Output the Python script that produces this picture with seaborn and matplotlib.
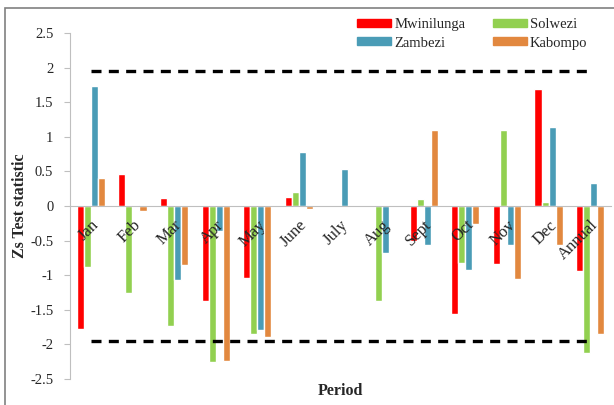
import matplotlib
matplotlib.use("Agg")
import matplotlib.pyplot as plt
import matplotlib.patches as mpatches
import seaborn as sns
import pandas as pd

periods = ["Jan", "Feb", "Mar", "Apr", "May", "June", "July", "Aug",
           "Sept", "Oct", "Nov", "Dec", "Annual"]
mwinilunga = [-1.78, 0.47, 0.12, -1.37, -1.04, 0.13, 0.0, 0.0, -0.50, -1.56, -0.84, 1.70, -0.94]
solwezi = [-0.88, -1.26, -1.74, -2.26, -1.85, 0.20, 0.0, -1.37, 0.10, -0.83, 1.10, 0.06, -2.13]
zambezi = [1.73, 0.02, -1.07, -0.36, -1.79, 0.78, 0.54, -0.68, -0.57, -0.92, -0.56, 1.15, 0.33]
kabompo = [0.40, -0.07, -0.86, -2.25, -1.89, -0.05, 0.0, 0.0, 1.10, -0.26, -1.06, -0.57, -1.86]
critical = 1.96
y_ticks = [2.5, 2, 1.5, 1, 0.5, 0, -0.5, -1, -1.5, -2, -2.5]

stations = ["Mwinilunga", "Solwezi", "Zambezi", "Kabompo"]
colors = {"Mwinilunga": "#FF0000", "Solwezi": "#92D050",
          "Zambezi": "#4A9CB6", "Kabompo": "#E2883F"}

rows = []
for name, vals in zip(stations, [mwinilunga, solwezi, zambezi, kabompo]):
    for p, v in zip(periods, vals):
        rows.append({"Period": p, "Station": name, "Z": v})
df = pd.DataFrame(rows)

sns.set_style("white")
plt.rcParams["font.family"] = ["Liberation Serif", "DejaVu Serif"]

fig = plt.figure(figsize=(6.14, 4.05), dpi=100)
ax = fig.add_axes([70 / 614, 1 - 378.7 / 405, 541 / 614, 345.4 / 405])

sns.barplot(data=df, x="Period", y="Z", hue="Station", order=periods,
            hue_order=stations, palette=colors, width=0.68, gap=0,
            saturation=1, legend=False, ax=ax)

# critical value lines (+/- 1.96)
xs = list(range(len(periods)))
ax.plot(xs, [critical] * len(xs), color="black", lw=2.4, dashes=(3, 2.2))
ax.plot(xs, [-critical] * len(xs), color="black", lw=2.4, dashes=(3, 2.2))

ax.set_xlim(-0.5, len(periods) - 0.5)
ax.set_ylim(-2.5, 2.5)
ax.set_yticks(y_ticks)
ax.set_yticklabels([f"{t:g}" for t in y_ticks], fontsize=10.5)

ax.set_axisbelow(False)
ax.spines["bottom"].set_position(("data", 0))
for s in ["top", "right"]:
    ax.spines[s].set_visible(False)
ax.spines["left"].set_color("#BFBFBF")
ax.spines["bottom"].set_color("#BFBFBF")

ax.set_xticks(xs)
ax.set_xticklabels(periods, rotation=45, ha="right", va="top",
                   rotation_mode="anchor", fontsize=12)
ax.set_xticks([x - 0.5 for x in range(len(periods) + 1)], minor=True)
ax.tick_params(axis="x", which="major", length=0, pad=8)
ax.tick_params(axis="x", which="minor", length=7, direction="inout",
               color="#BFBFBF")
ax.tick_params(axis="y", length=4, direction="out", color="#BFBFBF",
               left=True, pad=8)

ax.set_xlabel("")
ax.set_ylabel("Zs Test statistic", fontsize=11.5, fontweight="bold")
ax.yaxis.set_label_coords(-42 / 541, 0.5)
fig.text(340 / 614, 1 - 391 / 405, "Period", fontsize=11.5,
         fontweight="bold", ha="center", va="center")

handles = [mpatches.Patch(color=colors[s], label=s) for s in
           ["Mwinilunga", "Zambezi", "Solwezi", "Kabompo"]]
fig.legend(handles=handles, ncol=2, loc="upper left",
           bbox_to_anchor=(357 / 614, 1 - 18 / 405), frameon=False,
           fontsize=10.5, handlelength=2.35, handleheight=0.48,
           handletextpad=0.2, columnspacing=1.9, labelspacing=0.38,
           borderaxespad=0, borderpad=0)

# outer frame of the chart
fig.patches.append(mpatches.Rectangle((5 / 614, -0.05), 1.0, 1 - 8 / 405 + 0.05,
                                      transform=fig.transFigure, fill=False,
                                      edgecolor="#808080", lw=1.2))

fig.savefig("out.png", dpi=100)
